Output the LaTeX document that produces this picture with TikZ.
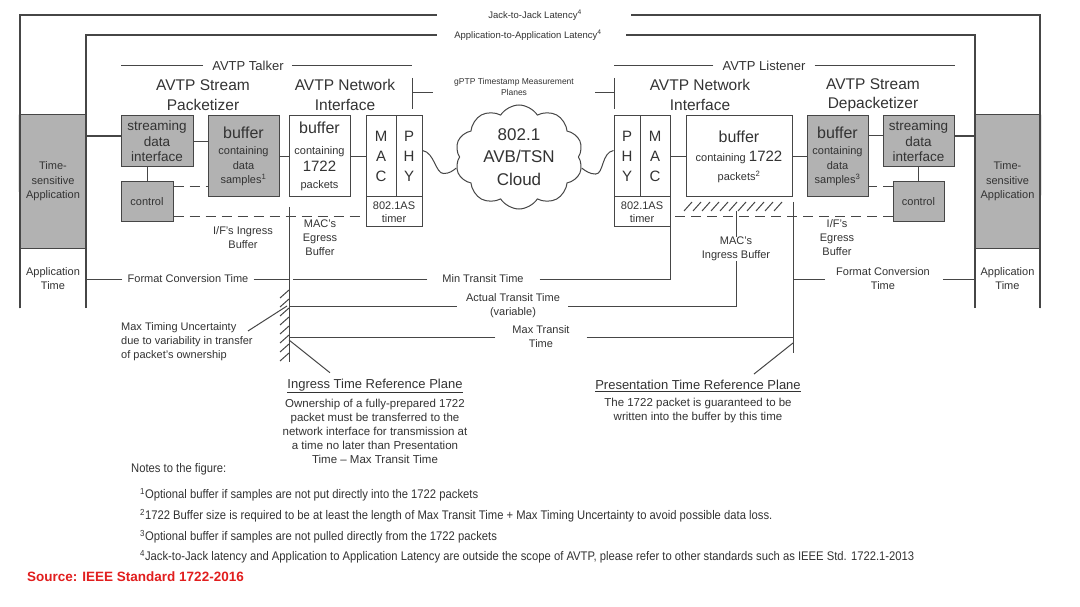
\documentclass[tikz,border=0pt]{standalone}
\usepackage{fontspec}
\setmainfont{Liberation Sans}
\newfontfamily\narrowfont[FakeStretch=0.9]{Liberation Sans}
\usetikzlibrary{shapes.symbols, positioning, calc}
\definecolor{blockgray}{RGB}{178,178,178}
\definecolor{inkgray}{RGB}{70,70,70}
\definecolor{srcred}{RGB}{225,30,30}
\newcommand{\setfs}[2]{\fontsize{#1}{#2}\selectfont}

\begin{document}
\begin{tikzpicture}[x=1pt, y=-1pt,
    every node/.style={inner sep=0pt, text=black!80},
    grayblock/.style={rectangle, draw=inkgray, fill=blockgray, line width=1pt, align=center},
    whiteblock/.style={rectangle, draw=inkgray, fill=white, line width=1pt, align=center},
    lbl/.style={align=center, font=\setfs{11}{14}},
    heading/.style={align=center, font=\setfs{15.5}{19.5}},
    wire/.style={draw=inkgray, line width=1pt},
    dashwire/.style={wire, dash pattern=on 10pt off 6pt},
    colwire/.style={draw=inkgray, line width=1.4pt},
    note/.style={anchor=west, font=\narrowfont\setfs{12.5}{14}}
]

% Frame
\fill[white] (0,0) rectangle (1080,607);
\useasboundingbox (0,0) rectangle (1080,607);

% Time-sensitive applications
\node[grayblock, minimum width=66pt, minimum height=133pt, font=\setfs{11}{14.5}] (appL) at (53,181.5) {Time-\\sensitive\\Application};
\node[lbl] (atL) at (53,279) {Application\\Time};
\node[grayblock, minimum width=65pt, minimum height=133pt, font=\setfs{11}{14.5}] (appR) at (1007.5,181.5) {Time-\\sensitive\\Application};
\node[lbl] (atR) at (1007.5,279) {Application\\Time};

% Latency spans
\node[font=\setfs{9.5}{11}] (j2j) at (535,15) {Jack-to-Jack Latency\textsuperscript{4}};
\node[font=\setfs{9.5}{11}] (a2a) at (528,35) {Application-to-Application Latency\textsuperscript{4}};
\coordinate (jackL) at (20,308);
\coordinate (jackR) at (1040,308);
\coordinate (appLb) at (86,308);
\coordinate (appRb) at (975,308);
\draw[colwire] (jackL) |- ([xshift=-51pt]j2j.west);
\draw[colwire] (jackR) |- ([xshift=49pt]j2j.east);
\draw[colwire] (appLb) |- ([xshift=-17pt]a2a.west);
\draw[colwire] (appRb) |- ([xshift=24pt]a2a.east);

% Headings
\node[font=\setfs{13}{15}] (talker) at (248,66) {AVTP Talker};
\node[font=\setfs{13}{15}] (listener) at (764,66) {AVTP Listener};
\node[heading] (pktz) at (203,95) {AVTP Stream\\Packetizer};
\node[heading] (netL) at (345,95) {AVTP Network\\Interface};
\node[heading] (netR) at (700,95) {AVTP Network\\Interface};
\node[heading] (dpktz) at (873,95) {AVTP Stream\\Depacketizer};
\node[font=\setfs{8.5}{11}, align=center] (gptp) at (514,87) {gPTP Timestamp Measurement\\Planes};

% Talker blocks
\node[grayblock, minimum width=72pt, minimum height=51pt, font=\setfs{13.5}{15.5}] (strL) at (157,141.5) {streaming\\data\\interface};
\node[grayblock, minimum width=52pt, minimum height=40pt, font=\setfs{11}{13}] (ctrlL) at (147,202) {control};
\node[grayblock, minimum width=71pt, minimum height=81pt, font=\setfs{11}{14.5}] (bufL) at (243.5,156.5) {{\setfs{16}{18}buffer}\\[2pt]containing\\data\\samples\textsuperscript{1}};
\node[whiteblock, minimum width=61pt, minimum height=81pt, font=\setfs{11}{17}] (wbufL) at (319.5,156.5) {{\setfs{16}{18}buffer}\\[4pt]containing\\{\setfs{15}{17}1722}\\packets};
\node[whiteblock, minimum width=30pt, minimum height=81pt, font=\setfs{15}{20}] (macL) at (381,156.5) {M\\A\\C};
\node[whiteblock, minimum width=26pt, minimum height=81pt, font=\setfs{15}{20}] (phyL) at (409,156.5) {P\\H\\Y};
\node[whiteblock, minimum width=56pt, minimum height=30pt, font=\setfs{11}{13}] (timerL) at (394,212) {802.1AS\\timer};

% Cloud
\node[cloud, draw=inkgray, line width=1pt, fill=white, cloud puffs=10, cloud puff arc=115, aspect=1.25, minimum width=128pt, minimum height=104pt, align=center, font=\setfs{17}{22.5}] (cloud) at (519,157) {802.1\\AVB/TSN\\Cloud};

% Listener blocks
\node[whiteblock, minimum width=26pt, minimum height=81pt, font=\setfs{15}{20}] (phyR) at (627,156.5) {P\\H\\Y};
\node[whiteblock, minimum width=30pt, minimum height=81pt, font=\setfs{15}{20}] (macR) at (655,156.5) {M\\A\\C};
\node[whiteblock, minimum width=56pt, minimum height=30pt, font=\setfs{11}{13}] (timerR) at (642,212) {802.1AS\\timer};
\node[whiteblock, minimum width=106pt, minimum height=81pt, font=\setfs{11}{19}] (wbufR) at (739,156.5) {{\setfs{16}{18}buffer}\\containing {\setfs{15}{17}1722}\\packets\textsuperscript{2}};
\node[grayblock, minimum width=61pt, minimum height=81pt, font=\setfs{11}{14.5}] (bufR) at (837.5,156.5) {{\setfs{16}{18}buffer}\\[2pt]containing\\data\\samples\textsuperscript{3}};
\node[grayblock, minimum width=71pt, minimum height=51pt, font=\setfs{13.5}{15.5}] (strR) at (918.5,141.5) {streaming\\data\\interface};
\node[grayblock, minimum width=51pt, minimum height=40pt, font=\setfs{11}{13}] (ctrlR) at (918.5,202) {control};

% Column lines
\draw[colwire] (appL.north west) -- (jackL);
\draw[colwire] (appR.north east) -- (jackR);

% Header rules and gPTP brackets
\coordinate (gptpL) at (412,78);
\coordinate (gptpR) at (614,78);
\draw[wire] ([xshift=-9pt]talker.west) -- (talker.west -| strL.west);
\draw[wire] ([xshift=8pt]talker.east) -- (talker.east -| gptpL);
\draw[wire] ([xshift=-9pt]listener.west) -- (listener.west -| gptpR);
\draw[wire] ([xshift=9pt]listener.east) -- (listener.east -| strR.east);
\draw[wire] (gptpL) -- ++(0,31);
\draw[wire] ([yshift=-15pt]gptpL) -- ++(21,0);
\draw[wire] (gptpR) -- ++(0,31);
\draw[wire] ([yshift=-15pt]gptpR) -- ++(-19,0);

% Talker connections
\draw[wire, line width=1.4pt] ([yshift=5.5pt]strL.west) -- ([yshift=5.5pt]strL.west -| appL.east);
\draw[wire] (strL.east) -- (strL.east -| bufL.west);
\draw[wire] (bufL.east) -- (wbufL.west);
\draw[wire] (wbufL.east) -- (macL.west);
\draw[wire] (ctrlL.north) -- (ctrlL.north |- strL.south);
\draw[dashwire] ([yshift=15pt]ctrlL.east) -- ([yshift=15pt]ctrlL.east -| bufL.west);
\draw[dashwire] ([yshift=-15pt]ctrlL.east) -- ([yshift=-15pt]ctrlL.east -| timerL.west);

% Links to the cloud
\draw[wire] ([yshift=6pt]phyL.east) .. controls +(12,2) and +(-8,0) .. ++(21,23) .. controls +(6,0) and +(-4,3) .. (cloud.190);
\draw[wire] (cloud.-10) .. controls +(4,3) and +(-6,0) .. ++(14,6) .. controls +(8,0) and +(-12,2) .. ([yshift=6pt]phyR.west);

% Listener connections
\draw[wire] (macR.east) -- (wbufR.west);
\draw[wire] (wbufR.east) -- (bufR.west);
\draw[wire] ([yshift=5.5pt]strR.west) -- ([yshift=5.5pt]strR.west -| bufR.east);
\draw[wire, line width=1.4pt] ([yshift=5.5pt]strR.east) -- ([yshift=5.5pt]strR.east -| appR.west);
\draw[wire] (ctrlR.north) -- (strR.south);
\draw[dashwire] ([yshift=15pt]ctrlR.west) -- ([yshift=15pt]ctrlR.west -| bufR.east);
\draw[dashwire] ([yshift=-15pt]ctrlR.west) -- ([yshift=-15pt]ctrlR.west -| timerR.east);

% Buffer labels
\node[lbl] (ifIngL) at (243,238) {I/F's Ingress\\Buffer};
\node[lbl] (macEg) at (320,238) {MAC's\\Egress\\Buffer};
\node[lbl] (macIng) at (736,249) {MAC's\\Ingress Buffer};
\node[lbl] (ifEgR) at (837,238) {I/F's\\Egress\\Buffer};

% Reference planes
\coordinate (ingTop) at (289,207);
\coordinate (ingBot) at (289,362);
\coordinate (ingFoot) at (289,340);
\coordinate (presTop) at (793,202);
\coordinate (presBot) at (793,353);
\coordinate (presFoot) at (793,343);
\coordinate (hatchR) at (736,211);
\draw[wire] (ingTop) -- (ingBot);
\draw[wire] (presTop) -- (presBot);
\foreach \y in {290,299,...,353}
    \draw[wire] (289,\y) -- +(-9,8);
\foreach \x in {684,693,...,774}
    \draw[wire] (\x,211) -- +(8,-9);
\draw[wire] (hatchR) -- (macIng.north);

% Timing rows
\node[lbl] (fctL) at (188,279) {Format Conversion Time};
\node[lbl] (minT) at (483,279) {Min Transit Time};
\node[lbl] (actT) at (513,306) {Actual Transit Time\\(variable)};
\node[lbl] (maxT) at (541,337) {Max Transit\\Time};
\node[lbl] (fctR) at (883,279) {Format Conversion\\Time};
\draw[wire] ([xshift=-5pt]fctL.west) -- (fctL.west -| appL.east);
\draw[wire] ([xshift=5pt]fctL.east) -- (fctL.east -| ingTop);
\draw[wire] ([xshift=-15pt]minT.west) -- ([xshift=4pt]ingTop |- minT.west);
\draw[wire] ([xshift=16pt]minT.east) -| (timerR.south east);
\draw[wire] ([xshift=-9pt]actT.west) -- (ingTop |- actT.west);
\draw[wire] ([xshift=8pt]actT.east) -| (macIng.south);
\draw[wire] ([xshift=-17pt]maxT.west) -- (ingTop |- maxT.west);
\draw[wire] ([xshift=17pt]maxT.east) -- (presTop |- maxT.east);
\draw[wire] ([xshift=-11pt]fctR.west) -- (presTop |- fctR.west);
\draw[wire] ([xshift=13pt]fctR.east) -- (fctR.east -| appR.west);

% Timing uncertainty
\node[lbl, align=left, anchor=west] (mtu) at (121,342) {Max Timing Uncertainty\\due to variability in transfer\\of packet's ownership};
\coordinate (mtuTip) at (248,331);
\draw[wire] (mtuTip) -- (287,306);

% Reference plane captions
\node[font=\setfs{13}{15}] (ingTitle) at (375,386) {\underline{Ingress Time Reference Plane}};
\node[lbl, font=\setfs{11.5}{14}, below=6pt of ingTitle] (ingText) {Ownership of a fully-prepared 1722\\packet must be transferred to the\\network interface for transmission at\\a time no later than Presentation\\Time -- Max Transit Time};
\node[font=\setfs{13}{15}] (presTitle) at (698,386) {\underline{Presentation Time Reference Plane}};
\node[lbl, font=\setfs{11.5}{14}, below=6pt of presTitle] (presText) {The 1722 packet is guaranteed to be\\written into the buffer by this time};
\draw[wire] (ingFoot) -- ([xshift=-45pt, yshift=6pt]ingTitle.north);
\draw[wire] (presFoot) -- ([xshift=56pt, yshift=6pt]presTitle.north);

% Notes
\node[note] (notesHd) at (131,469) {Notes to the figure:};
\node[note] (n1) at (140,495) {\textsuperscript{1}Optional buffer if samples are not put directly into the 1722 packets};
\node[note] (n2) at (140,516) {\textsuperscript{2}1722 Buffer size is required to be at least the length of Max Transit Time + Max Timing Uncertainty to avoid possible data loss.};
\node[note] (n3) at (140,537) {\textsuperscript{3}Optional buffer if samples are not pulled directly from the 1722 packets};
\node[note] (n4) at (140,557) {\textsuperscript{4}Jack-to-Jack latency and Application to Application Latency are outside the scope of AVTP, please refer to other standards such as IEEE Std. 1722.1-2013};
\node[anchor=west, font=\bfseries\setfs{13.5}{15}, text=srcred] (src) at (27,577) {Source: IEEE Standard 1722-2016};

\end{tikzpicture}
\end{document}
